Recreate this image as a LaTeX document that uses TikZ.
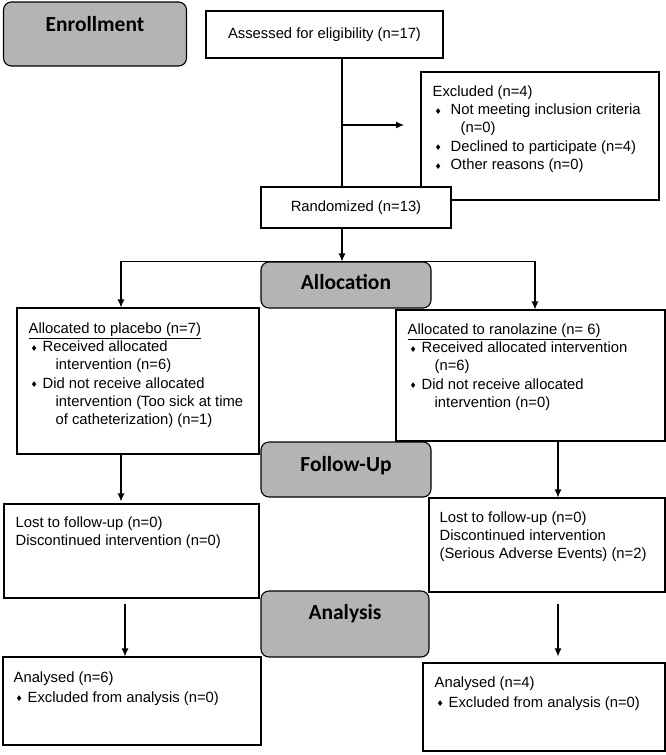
\documentclass[tikz,border=0pt]{standalone}
\usepackage{fontspec}
\setmainfont{Liberation Sans}
\newfontfamily\hdfont{Carlito}
\newfontfamily\symfont{DejaVu Sans}
\usepackage{tikz}
\usetikzlibrary{arrows.meta}
\usetikzlibrary{positioning}

\definecolor{hdgray}{RGB}{180,180,180}

% bullet and hanging indent used inside the boxes
\newcommand{\itm}[1][12pt]{\hspace*{2pt}\makebox[#1][l]{\raisebox{0.5pt}{\symfont\fontsize{8}{8}\selectfont ♦}}}
\newcommand{\cnt}{\hspace*{27pt}}

\tikzset{
  phase/.style={rectangle, rounded corners=8pt, draw=black, line width=1.1pt, fill=hdgray,
    inner sep=0pt, font=\hdfont\bfseries\fontsize{21.5}{24}\selectfont},
  box/.style={rectangle, draw=black, line width=1.1pt, fill=white, inner sep=0pt,
    font=\fontsize{14.8}{18.3}\selectfont},
  txt/.style={inner sep=0pt, align=left, font=\fontsize{14.8}{18.3}\selectfont},
  arr/.style={-{Latex[length=8pt,width=7pt]}, line width=1.1pt}
}

\begin{document}
\begin{tikzpicture}[x=1pt, y=-1pt]
\useasboundingbox (0,0) rectangle (666,755);

% phase labels
\node [phase, minimum width=183pt, text height=29.5pt, text depth=34.5pt] (enr) at (95, 34) {Enrollment};
\node [phase, minimum width=170pt, text height=27.5pt, text depth=18.5pt] (alc) at (346, 285) {Allocation};
\node [phase, minimum width=170pt, text height=29.5pt, text depth=25.5pt] (fol) at (346, 469.5) {Follow-Up};
\node [phase, minimum width=168pt, text height=28.5pt, text depth=37.5pt] (ana) at (345, 624) {Analysis};

% enrollment
\node [box, minimum width=237pt, minimum height=47pt] (ass) at (324.5, 34.5) {Assessed for eligibility (n=17)};
\node [box, minimum width=238pt, minimum height=128pt] (exc) at (540, 136) {};
\node [txt, below right=14pt and 12pt of exc.north west] (exct) {Excluded (n=4)\\
  \itm[16pt]Not meeting inclusion criteria\\
  \hspace*{28pt}(n=0)\\
  \itm[16pt]Declined to participate (n=4)\\
  \itm[16pt]Other reasons (n=0)};
\node [box, minimum width=190pt, minimum height=41pt] (rnd) at (356, 207.5) {Randomized (n=13)};

% allocation
\node [box, minimum width=242pt, minimum height=146pt] (plc) at (138, 381) {};
\node [txt, below right=15pt and 12pt of plc.north west] (plct) {\underline{Allocated to placebo (n=7)}\\
  \itm Received allocated\\
  \cnt intervention (n=6)\\
  \itm Did not receive allocated\\
  \cnt intervention (Too sick at time\\
  \cnt of catheterization) (n=1)};
\node [box, minimum width=269pt, minimum height=131pt] (rnl) at (530.5, 375.5) {};
\node [txt, below right=14pt and 12pt of rnl.north west] (rnlt) {\underline{Allocated to ranolazine (n= 6)}\\
  \itm Received allocated intervention\\
  \cnt (n=6)\\
  \itm Did not receive allocated\\
  \cnt intervention (n=0)};

% follow-up
\node [box, minimum width=255pt, minimum height=94pt] (lstl) at (131.5, 551) {};
\node [txt, below right=13pt and 12pt of lstl.north west] (lstlt) {Lost to follow-up (n=0)\\
  Discontinued intervention (n=0)};
\node [box, minimum width=236pt, minimum height=94pt] (lstr) at (547, 545) {};
\node [txt, below right=14pt and 11pt of lstr.north west] (lstrt) {Lost to follow-up (n=0)\\
  Discontinued intervention\\
  (Serious Adverse Events) (n=2)};

% analysis
\node [box, minimum width=258pt, minimum height=88pt] (anl) at (132, 701) {};
\node [txt, below right=15pt and 11pt of anl.north west] (anlt) {Analysed (n=6)\\[1.5pt]
  \itm Excluded from analysis (n=0)};
\node [box, minimum width=242pt, minimum height=88pt] (anr) at (544, 707) {};
\node [txt, below right=14pt and 12pt of anr.north west] (anrt) {Analysed (n=4)\\[1.5pt]
  \itm Excluded from analysis (n=0)};

% connectors
\coordinate (spine) at (342, 0);
\coordinate (lft) at (121, 0);
\coordinate (rgt) at (535, 0);
\coordinate (rgt2) at (558, 0);
\coordinate (exa) at (342, 125);
\coordinate (exb) at (404, 125);
\draw [line width=1.1pt] (ass.south -| spine) to (rnd.north -| spine);
\draw [arr] (exa) to (exb);
\draw [arr] (rnd.south -| spine) to (alc.north -| spine);
\draw [arr] (alc.north) -| (plc.north -| lft);
\draw [arr] (alc.north) -| (rnl.north -| rgt);
\draw [arr] (plc.south -| lft) to ([yshift=2pt]lstl.north -| lft);
\draw [arr] (rnl.south -| rgt2) to (lstr.north -| rgt2);
\draw [arr] ([yshift=-5pt]lstl.south -| 125,0) to (anl.north -| 125,0);
\draw [arr] ([yshift=-11pt]lstr.south -| rgt2) to ([yshift=6pt]anr.north -| rgt2);
\end{tikzpicture}
\end{document}
